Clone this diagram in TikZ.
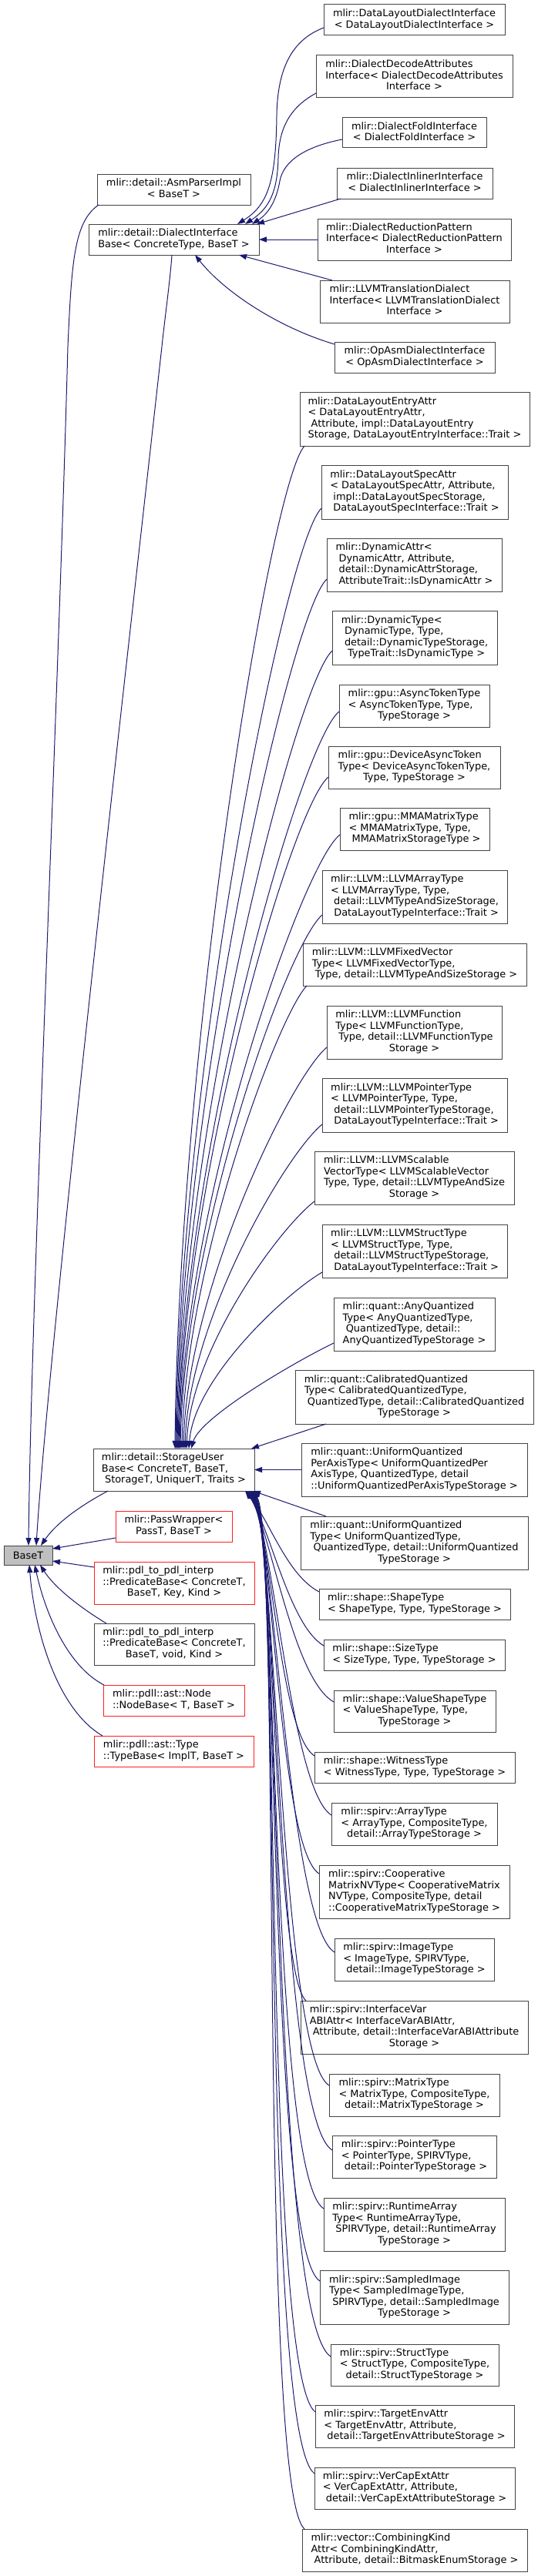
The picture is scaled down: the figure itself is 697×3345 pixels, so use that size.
\documentclass[tikz,border=0pt]{standalone}
\usepackage{fontspec}
\setmainfont{DejaVu Sans}
\usetikzlibrary{arrows.meta,calc}
\definecolor{edgeblue}{HTML}{191970}
\definecolor{boxgray}{HTML}{444444}
\definecolor{basefill}{HTML}{BFBFBF}
\definecolor{boxred}{HTML}{FF2020}
\newcommand\tx[2]{\begin{tabular}{@{}l@{}}#1\\\multicolumn{1}{@{}c@{}}{#2}\end{tabular}}
\newcommand\bx[7][cls]{\node[#1,minimum width={(#5-#3)*1pt},minimum height={(#6-#4)*1pt}] (#2) at ({(#3+#5)/2},{(#4+#6)/2}) {#7};}
\begin{document}
\begin{tikzpicture}[x=1pt,y=-1pt,
 cls/.style={draw=boxgray,fill=white,line width=1pt,inner sep=0pt,outer sep=0pt,font={\fontsize{12.9}{14.5}\selectfont}},
 redbox/.style={cls,draw=boxred},
 basebox/.style={cls,fill=basefill},
 inh/.style={draw=edgeblue,line width=1pt,-{Triangle[length=10pt,width=7pt]}}]
\useasboundingbox (0,0) rectangle (697,3345);

% left column
\bx[basebox]{baset}{5}{2007}{68}{2032}{BaseT}
\bx{asm}{126}{226}{325}{266}{\tx{mlir::detail::AsmParserImpl}{< BaseT >}}
\bx{dib}{115}{291}{336}{331}{\tx{mlir::detail::DialectInterface}{Base< ConcreteType, BaseT >}}
\bx{sub}{121}{1881}{330}{1936}{\tx{mlir::detail::StorageUser\\Base< ConcreteT, BaseT,}{\ StorageT, UniquerT, Traits >}}
\bx[redbox]{pass}{150}{1962}{301}{2002}{\tx{mlir::PassWrapper<}{PassT, BaseT >}}
\bx[redbox]{predkey}{122}{2028}{330}{2083}{\tx{mlir::pdl\_to\_pdl\_interp\\::PredicateBase< ConcreteT,}{BaseT, Key, Kind >}}
\bx{predvoid}{122}{2108}{330}{2162}{\tx{mlir::pdl\_to\_pdl\_interp\\::PredicateBase< ConcreteT,}{BaseT, void, Kind >}}
\bx[redbox]{nodebase}{134}{2188}{317}{2228}{\tx{mlir::pdll::ast::Node}{::NodeBase< T, BaseT >}}
\bx[redbox]{typebase}{122}{2254}{329}{2294}{\tx{mlir::pdll::ast::Type}{::TypeBase< ImplT, BaseT >}}

% right column: dialect interfaces
\bx{dldi}{420}{6}{655}{46}{\tx{mlir::DataLayoutDialectInterface}{< DataLayoutDialectInterface >}}
\bx{decode}{410}{72}{665}{127}{\tx{mlir::DialectDecodeAttributes\\Interface< DialectDecodeAttributes}{Interface >}}
\bx{fold}{444}{153}{631}{192}{\tx{mlir::DialectFoldInterface}{< DialectFoldInterface >}}
\bx{inliner}{437}{218}{639}{258}{\tx{mlir::DialectInlinerInterface}{< DialectInlinerInterface >}}
\bx{reduction}{412}{284}{663}{338}{\tx{mlir::DialectReductionPattern\\Interface< DialectReductionPattern}{Interface >}}
\bx{llvmtrans}{415}{364}{661}{419}{\tx{mlir::LLVMTranslationDialect\\Interface< LLVMTranslationDialect}{Interface >}}
\bx{opasm}{434}{444}{642}{484}{\tx{mlir::OpAsmDialectInterface}{< OpAsmDialectInterface >}}

% right column: storage users
\bx{dlea}{389}{509}{687}{579}{\tx{mlir::DataLayoutEntryAttr\\< DataLayoutEntryAttr,\\\ Attribute, impl::DataLayoutEntry}{Storage, DataLayoutEntryInterface::Trait >}}
\bx{dlsa}{417}{604}{659}{674}{\tx{mlir::DataLayoutSpecAttr\\< DataLayoutSpecAttr, Attribute,\\\ impl::DataLayoutSpecStorage,}{\ DataLayoutSpecInterface::Trait >}}
\bx{dynattr}{424}{699}{651}{768}{\tx{mlir::DynamicAttr<\\\ DynamicAttr, Attribute,\\\ detail::DynamicAttrStorage,}{\ AttributeTrait::IsDynamicAttr >}}
\bx{dyntype}{431}{793}{645}{863}{\tx{mlir::DynamicType<\\\ DynamicType, Type,\\\ detail::DynamicTypeStorage,}{\ TypeTrait::IsDynamicType >}}
\bx{asynctok}{440}{889}{635}{944}{\tx{mlir::gpu::AsyncTokenType\\< AsyncTokenType, Type,}{TypeStorage >}}
\bx{devasync}{426}{969}{649}{1024}{\tx{mlir::gpu::DeviceAsyncToken\\Type< DeviceAsyncTokenType,}{Type, TypeStorage >}}
\bx{mma}{441}{1049}{635}{1104}{\tx{mlir::gpu::MMAMatrixType\\< MMAMatrixType, Type,}{\ MMAMatrixStorageType >}}
\bx{llvmarray}{418}{1130}{658}{1199}{\tx{mlir::LLVM::LLVMArrayType\\< LLVMArrayType, Type,\\\ detail::LLVMTypeAndSizeStorage,}{\ DataLayoutTypeInterface::Trait >}}
\bx{llvmfixed}{393}{1225}{683}{1280}{\tx{mlir::LLVM::LLVMFixedVector\\Type< LLVMFixedVectorType,}{\ Type, detail::LLVMTypeAndSizeStorage >}}
\bx{llvmfunc}{424}{1306}{651}{1375}{\tx{mlir::LLVM::LLVMFunction\\Type< LLVMFunctionType,\\\ Type, detail::LLVMFunctionType}{Storage >}}
\bx{llvmptr}{418}{1400}{658}{1470}{\tx{mlir::LLVM::LLVMPointerType\\< LLVMPointerType, Type,\\\ detail::LLVMPointerTypeStorage,}{\ DataLayoutTypeInterface::Trait >}}
\bx{llvmscal}{408}{1495}{667}{1564}{\tx{mlir::LLVM::LLVMScalable\\VectorType< LLVMScalableVector\\Type, Type, detail::LLVMTypeAndSize}{Storage >}}
\bx{llvmstruct}{418}{1590}{658}{1659}{\tx{mlir::LLVM::LLVMStructType\\< LLVMStructType, Type,\\\ detail::LLVMStructTypeStorage,}{\ DataLayoutTypeInterface::Trait >}}
\bx{anyq}{433}{1685}{642}{1754}{\tx{mlir::quant::AnyQuantized\\Type< AnyQuantizedType,\\\ QuantizedType, detail::}{AnyQuantizedTypeStorage >}}
\bx{calq}{383}{1779}{692}{1849}{\tx{mlir::quant::CalibratedQuantized\\Type< CalibratedQuantizedType,\\\ QuantizedType, detail::CalibratedQuantized}{TypeStorage >}}
\bx{uqpa}{391}{1874}{684}{1943}{\tx{mlir::quant::UniformQuantized\\PerAxisType< UniformQuantizedPer\\AxisType, QuantizedType, detail}{::UniformQuantizedPerAxisTypeStorage >}}
\bx{uq}{390}{1969}{685}{2038}{\tx{mlir::quant::UniformQuantized\\Type< UniformQuantizedType,\\\ QuantizedType, detail::UniformQuantized}{TypeStorage >}}
\bx{shape}{414}{2063}{662}{2103}{\tx{mlir::shape::ShapeType}{< ShapeType, Type, TypeStorage >}}
\bx{size}{420}{2129}{655}{2169}{\tx{mlir::shape::SizeType}{< SizeType, Type, TypeStorage >}}
\bx{valshape}{433}{2195}{643}{2249}{\tx{mlir::shape::ValueShapeType\\< ValueShapeType, Type,}{TypeStorage >}}
\bx{witness}{408}{2275}{668}{2315}{\tx{mlir::shape::WitnessType}{< WitnessType, Type, TypeStorage >}}
\bx{array}{430}{2341}{645}{2396}{\tx{mlir::spirv::ArrayType\\< ArrayType, CompositeType,}{detail::ArrayTypeStorage >}}
\bx{coop}{414}{2422}{661}{2491}{\tx{mlir::spirv::Cooperative\\MatrixNVType< CooperativeMatrix\\NVType, CompositeType, detail}{::CooperativeMatrixTypeStorage >}}
\bx{image}{434}{2517}{641}{2572}{\tx{mlir::spirv::ImageType\\< ImageType, SPIRVType,}{\ detail::ImageTypeStorage >}}
\bx{ifvar}{390}{2598}{685}{2667}{\tx{mlir::spirv::InterfaceVar\\ABIAttr< InterfaceVarABIAttr,\\\ Attribute, detail::InterfaceVarABIAttribute}{Storage >}}
\bx{matrix}{427}{2693}{648}{2748}{\tx{mlir::spirv::MatrixType\\< MatrixType, CompositeType,}{detail::MatrixTypeStorage >}}
\bx{pointer}{431}{2773}{644}{2828}{\tx{mlir::spirv::PointerType\\< PointerType, SPIRVType,}{\ detail::PointerTypeStorage >}}
\bx{runtime}{420}{2854}{655}{2923}{\tx{mlir::spirv::RuntimeArray\\Type< RuntimeArrayType,\\\ SPIRVType, detail::RuntimeArray}{TypeStorage >}}
\bx{sampled}{415}{2948}{660}{3018}{\tx{mlir::spirv::SampledImage\\Type< SampledImageType,\\\ SPIRVType, detail::SampledImage}{TypeStorage >}}
\bx{struct}{429}{3044}{647}{3098}{\tx{mlir::spirv::StructType\\< StructType, CompositeType,}{detail::StructTypeStorage >}}
\bx{target}{409}{3123}{667}{3178}{\tx{mlir::spirv::TargetEnvAttr\\< TargetEnvAttr, Attribute,}{\ detail::TargetEnvAttributeStorage >}}
\bx{vercap}{408}{3204}{668}{3258}{\tx{mlir::spirv::VerCapExtAttr\\< VerCapExtAttr, Attribute,}{\ detail::VerCapExtAttributeStorage >}}
\bx{combining}{392}{3284}{684}{3339}{\tx{mlir::vector::CombiningKind\\Attr< CombiningKindAttr,}{\ Attribute, detail::BitmaskEnumStorage >}}

% edges into DialectInterfaceBase
\draw[inh] ($(dldi.west)+(0,10)$) .. controls (378,52) and (360,90) .. (359,150) .. controls (358,235) and (348,266) .. ($(dib.north east)+(-28,0)$);
\draw[inh] ($(decode.west)+(0,21.5)$) .. controls (375,140) and (362,168) .. (361,205) .. controls (360,248) and (350,270) .. ($(dib.north east)+(-18,0)$);
\draw[inh] ($(fold.west)+(0,8.5)$) .. controls (398,190) and (368,208) .. (363,235) .. controls (359,258) and (350,276) .. ($(dib.north east)+(-9,0)$);
\draw[inh] ($(inliner.south west)+(5,0)$) -- ($(dib.north east)+(-3,0)$);
\draw[inh] (reduction.west) -- (dib.east);
\draw[inh] ($(llvmtrans.north west)+(16,0)$) -- ($(dib.south east)+(-26,0)$);
\draw[inh] ($(opasm.west)+(0,-17)$) .. controls (360,425) and (290,378) .. ($(dib.south)+(27.5,0)$);

% edges into BaseT
\draw[inh] ($(asm.south west)+(2,0)$) .. controls (96,288) and (93,340) .. (88,450) .. controls (76,900) and (40,1700) .. ($(baset.north)+(0.5,0)$);
\draw[inh] ($(dib.south)+(-2.5,0)$) .. controls (221,362) and (213,420) .. (210,450) .. controls (160,900) and (62,1760) .. ($(baset.north)+(10.5,0)$);
\draw[inh] ($(sub.south west)+(19,0)$) .. controls (110,1952) and (75,1975) .. ($(baset.north)+(16.5,0)$);
\draw[inh] ($(pass.west)+(0,15)$) -- ($(baset.east)+(0,-8.5)$);
\draw[inh] ($(predkey.north west)+(0,7)$) -- ($(baset.east)+(0,7.5)$);
\draw[inh] ($(predvoid.north west)+(16,0)$) .. controls (100,2085) and (70,2060) .. ($(baset.south)+(15.5,0)$);
\draw[inh] ($(nodebase.north west)+(1,0)$) .. controls (90,2165) and (60,2100) .. ($(baset.south)+(8.5,0)$);
\draw[inh] ($(typebase.north west)+(11,0)$) .. controls (75,2220) and (45,2120) .. ($(baset.south)+(1.5,0)$);

% edges into StorageUserBase from above
\draw[inh] ($(dlea.south west)+(6,0)$) .. controls (350,630) and (232,1360) .. ($(sub.north)+(1.5,0)$);
\draw[inh] ($(dlsa.west)+(0,21)$) .. controls (370,705) and (233,1393) .. ($(sub.north)+(2.5,0)$);
\draw[inh] ($(dynattr.west)+(0,18.5)$) .. controls (377,795) and (234,1429) .. ($(sub.north)+(3.5,0)$);
\draw[inh] ($(dyntype.west)+(0,17)$) .. controls (384,888) and (235,1467) .. ($(sub.north)+(4.5,0)$);
\draw[inh] ($(asynctok.west)+(0,7.5)$) .. controls (392,960) and (236,1498) .. ($(sub.north)+(5.5,0)$);
\draw[inh] ($(devasync.west)+(0,12.5)$) .. controls (379,1048) and (237,1532) .. ($(sub.north)+(6.5,0)$);
\draw[inh] ($(mma.west)+(0,7.5)$) .. controls (393,1120) and (238,1562) .. ($(sub.north)+(7.5,0)$);
\draw[inh] ($(llvmarray.west)+(0,23.5)$) .. controls (372,1228) and (239,1604) .. ($(sub.north)+(8.5,0)$);
\draw[inh] ($(llvmfixed.south west)+(5,0)$) .. controls (360,1320) and (241,1641) .. ($(sub.north)+(10.5,0)$);
\draw[inh] ($(llvmfunc.west)+(0,19.5)$) .. controls (378,1398) and (243,1673) .. ($(sub.north)+(12.5,0)$);
\draw[inh] ($(llvmptr.west)+(0,25)$) .. controls (372,1497) and (245,1713) .. ($(sub.north)+(14.5,0)$);
\draw[inh] ($(llvmscal.west)+(0,30.5)$) .. controls (362,1595) and (247,1753) .. ($(sub.north)+(16.5,0)$);
\draw[inh] ($(llvmstruct.west)+(0,27.5)$) .. controls (370,1680) and (252,1790) .. ($(sub.north)+(19.5,0)$);
\draw[inh] ($(anyq.west)+(0,24.5)$) .. controls (383,1768) and (260,1840) .. ($(sub.north)+(22.5,0)$);

% straight edges into StorageUserBase
\draw[inh] ($(calq.south west)+(40,0)$) -- ($(sub.north east)+(-4,0)$);
\draw[inh] (uqpa.west) -- (sub.east);
\draw[inh] ($(uq.north west)+(33,0)$) -- ($(sub.south east)+(-2,0)$);

% edges into StorageUserBase from below
\draw[inh] ($(shape.north west)+(0,4)$) .. controls (372,2045) and (350,1975) .. ($(sub.south east)+(-12,0)$);
\draw[inh] ($(size.west)+(0,-12)$) .. controls (375,2110) and (351,1985) .. ($(sub.south east)+(-11,0)$);
\draw[inh] ($(valshape.west)+(0,-12)$) .. controls (380,2180) and (352,1990) .. ($(sub.south east)+(-10,0)$);
\draw[inh] ($(witness.west)+(0,-15)$) .. controls (362,2250) and (353,1990) .. ($(sub.south east)+(-9,0)$);
\draw[inh] ($(array.west)+(0,-11.5)$) .. controls (378,2325) and (354,1990) .. ($(sub.south east)+(-8,0)$);
\draw[inh] ($(coop.west)+(0,-23.5)$) .. controls (362,2400) and (355,1992) .. ($(sub.south east)+(-7,0)$);
\draw[inh] ($(image.west)+(0,-9.5)$) .. controls (375,2500) and (356,1994) .. ($(sub.south east)+(-6,0)$);
\draw[inh] ($(ifvar.north west)+(7,0)$) .. controls (355,2560) and (357,1996) .. ($(sub.south east)+(-5,0)$);
\draw[inh] ($(matrix.west)+(0,-12.5)$) .. controls (365,2670) and (358,1998) .. ($(sub.south east)+(-5,0)$);
\draw[inh] ($(pointer.west)+(0,-8.5)$) .. controls (362,2750) and (359,2000) .. ($(sub.south east)+(-4,0)$);
\draw[inh] ($(runtime.west)+(0,-20.5)$) .. controls (352,2825) and (360,2000) .. ($(sub.south east)+(-4,0)$);
\draw[inh] ($(sampled.west)+(0,-21)$) .. controls (348,2920) and (361,2000) .. ($(sub.south east)+(-3,0)$);
\draw[inh] ($(struct.west)+(0,-11)$) .. controls (352,3010) and (362,2000) .. ($(sub.south east)+(-3,0)$);
\draw[inh] ($(target.west)+(0,-18.5)$) .. controls (342,3080) and (363,2000) .. ($(sub.south east)+(-2,0)$);
\draw[inh] ($(vercap.west)+(0,-19)$) .. controls (338,3160) and (364,2000) .. ($(sub.south east)+(-2,0)$);
\draw[inh] ($(combining.north west)+(3,0)$) .. controls (335,3230) and (365,2000) .. ($(sub.south east)+(-1,0)$);
\end{tikzpicture}
\end{document}
